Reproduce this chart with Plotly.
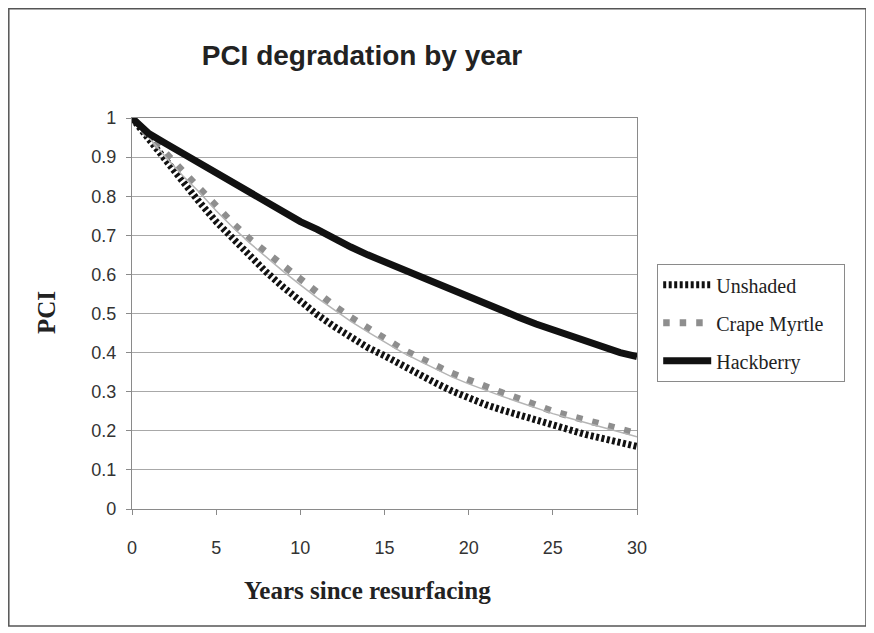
import plotly.graph_objects as go

years = list(range(0, 31))

unshaded = [1.00, 0.945, 0.89, 0.835, 0.785, 0.735, 0.69, 0.645, 0.605, 0.567,
            0.53, 0.497, 0.467, 0.44, 0.413, 0.392, 0.368, 0.345, 0.323, 0.302,
            0.283, 0.267, 0.253, 0.24, 0.227, 0.212, 0.20, 0.19, 0.18, 0.17, 0.16]

crape_myrtle = [1.00, 0.955, 0.905, 0.86, 0.82, 0.77, 0.73, 0.69, 0.655, 0.62,
                0.585, 0.552, 0.52, 0.49, 0.462, 0.435, 0.41, 0.388, 0.367, 0.347,
                0.33, 0.312, 0.297, 0.282, 0.265, 0.25, 0.238, 0.226, 0.214, 0.203, 0.193]

unlabeled = [1.00, 0.95, 0.90, 0.853, 0.81, 0.763, 0.72, 0.68, 0.643, 0.607,
             0.573, 0.54, 0.51, 0.48, 0.453, 0.427, 0.402, 0.38, 0.358, 0.338,
             0.32, 0.303, 0.288, 0.273, 0.258, 0.244, 0.232, 0.22, 0.208, 0.197, 0.185]

hackberry = [1.00, 0.96, 0.935, 0.91, 0.88, 0.855, 0.83, 0.805, 0.78, 0.755,
             0.735, 0.715, 0.69, 0.67, 0.65, 0.632, 0.613, 0.595, 0.577, 0.558,
             0.54, 0.523, 0.507, 0.49, 0.473, 0.458, 0.443, 0.43, 0.415, 0.40, 0.39]

x_ticks = [0, 5, 10, 15, 20, 25, 30]
y_ticks = [0, 0.1, 0.2, 0.3, 0.4, 0.5, 0.6, 0.7, 0.8, 0.9, 1]

# page offset of the figure inside the browser window
OFF = 8
W, H = 874 - OFF, 633 - OFF
L, R, T, B = 132 - OFF, 637 - OFF, 118 - OFF, 509 - OFF

def px_x(p):
    return (p - OFF - L) / (R - L)

def px_y(p):
    return (B - (p - OFF)) / (B - T)

NB = "\u00a0"

fig = go.Figure()
fig.add_trace(go.Scatter(x=years, y=unshaded, mode="lines", name="Unshaded",
                         legendgroup="a",
                         line=dict(color="#111111", width=7, dash="3px,2.5px")))
fig.add_trace(go.Scatter(x=years, y=crape_myrtle, mode="lines", name="Crape Myrtle" + NB * 3,
                         legendgroup="b",
                         line=dict(color="#8e8e8e", width=7, dash="6.5px,10px")))
fig.add_trace(go.Scatter(x=years, y=unlabeled, mode="lines", name="",
                         showlegend=False,
                         line=dict(color="#b5b5b5", width=1.5)))
fig.add_trace(go.Scatter(x=years, y=hackberry, mode="lines", name="Hackberry",
                         legendgroup="c",
                         line=dict(color="#111111", width=7)))

axis_common = dict(showline=True, linecolor="#8a8a8a", linewidth=1.2, mirror=True,
                   ticks="outside", ticklen=5, tickcolor="#8a8a8a",
                   tickfont=dict(family="Liberation Sans, Arial", size=18, color="#333333"),
                   zeroline=False)

fig.update_xaxes(range=[0, 30], tickvals=x_ticks, showgrid=False,
                 ticklabelstandoff=17, **axis_common)
fig.update_yaxes(range=[0, 1], tickvals=y_ticks, showgrid=True,
                 gridcolor="#a8a8a8", gridwidth=1.2, ticklabelstandoff=6,
                 **axis_common)

fig.add_annotation(text="<b>PCI</b>", xref="paper", yref="paper",
                   x=px_x(46), y=px_y(313), xanchor="center", yanchor="middle",
                   showarrow=False, textangle=-90,
                   font=dict(family="Liberation Serif, Times New Roman", size=25, color="#222222"))
fig.add_annotation(text="<b>Years since resurfacing</b>", xref="paper", yref="paper",
                   x=px_x(367), y=px_y(590), xanchor="center", yanchor="middle",
                   showarrow=False,
                   font=dict(family="Liberation Serif, Times New Roman", size=25, color="#222222"))

fig.add_shape(type="rect", xref="paper", yref="paper",
              x0=px_x(8.8), x1=px_x(866), y0=px_y(626), y1=px_y(8.8),
              line=dict(color="#555555", width=1.5), layer="below")

fig.update_layout(
    width=W, height=H,
    margin=dict(l=L, r=W - R, t=T, b=H - B),
    paper_bgcolor="white", plot_bgcolor="white",
    title=dict(text="<b>PCI degradation by year</b>", x=(362 - OFF) / W, xanchor="center",
               y=1 - (55 - OFF) / H, yanchor="middle",
               font=dict(family="Liberation Sans, Arial", size=28, color="#222222")),
    legend=dict(x=px_x(657), y=px_y(264), xanchor="left", yanchor="top",
                bordercolor="#8a8a8a", borderwidth=1.2, bgcolor="white",
                tracegroupgap=9, itemwidth=48,
                font=dict(family="Liberation Serif, Times New Roman", size=20, color="#222222")),
    showlegend=True,
)

fig.write_html("out.html")
